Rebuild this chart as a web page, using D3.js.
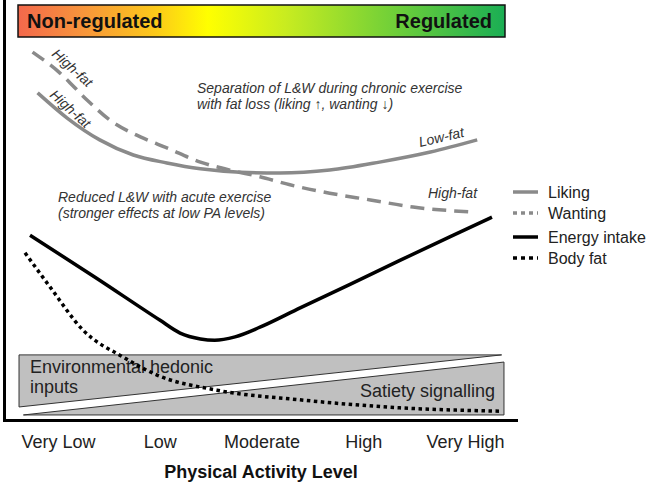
<!DOCTYPE html>
<html><head><meta charset="utf-8">
<script src="https://cdn.jsdelivr.net/npm/d3@7"></script>
<style>
body{margin:0;background:#fff;}
svg{display:block;font-family:"Liberation Sans",Arial,sans-serif;}
</style></head>
<body><svg id="c" width="649" height="487"></svg>
<script>
// PA levels (categorical positions 0..4)
const levels = ["Very Low","Low","Moderate","High","Very High"];
// Curves: x in PA-level units, y in arbitrary 0-100 units
const likingX = [-0.2,0.09,0.41,0.74,1.07,1.4,1.79,2.18,2.67,3.16,3.66,4.12];
const likingY = [77.9,71.9,66.7,63.1,61.2,59.8,59.0,58.8,59.5,61.4,63.8,66.7];
const wantingX = [-0.25,0.02,0.285,0.51,0.81,1.07,1.4,1.69,1.985,2.28,2.67,3.07,3.49,4.08];
const wantingY = [87.6,82.6,76.2,71.4,67.4,64.8,61.4,59.5,57.9,56.0,54.0,52.4,50.7,49.5];
const energyX = [-0.275,0.364,1.0,1.2,1.4,1.54,1.74,1.985,2.38,2.87,3.36,3.85,4.265];
const energyY = [44.0,34.0,23.8,20.7,19.3,19.0,19.8,22.1,26.7,32.3,38.0,43.6,48.3];
const fatX = [-0.324,-0.079,0.246,0.639,0.973,1.563,2.378,3.361,4.344];
const fatY = [39.8,31.7,21.4,15.0,10.7,7.1,4.8,2.9,2.1];
const legendItems = ["Liking","Wanting","Energy intake","Body fat"];

const svg = d3.select("#c");
const x = d3.scaleLinear().domain([0,4]).range([58,465]);
const y = d3.scaleLinear().domain([0,100]).range([420,0]);
const GRAY = "#8a8a8a";

// gradient header
const defs = svg.append("defs");
const g = defs.append("linearGradient").attr("id","grad").attr("x1","0%").attr("x2","100%");
[["0%","#f3684c"],["14%","#f8973a"],["28%","#fcc81a"],["39%","#ffff00"],["55%","#c8ec20"],["75%","#78d236"],["100%","#1aae54"]]
  .forEach(s=>g.append("stop").attr("offset",s[0]).attr("stop-color",s[1]));
svg.append("rect").attr("x",x(-0.393)).attr("y",5).attr("width",x(4.393)-x(-0.393)).attr("height",32)
  .attr("fill","url(#grad)").attr("stroke","#111").attr("stroke-width",1.5);
svg.append("text").attr("x",27).attr("y",28).attr("font-size",20).attr("font-weight","bold").attr("fill","#111").text("Non-regulated");
svg.append("text").attr("x",492).attr("y",28).attr("text-anchor","end").attr("font-size",20).attr("font-weight","bold").attr("fill","#111").text("Regulated");

// hedonic / satiety box
const bx0=-0.383, bx1=4.383;
svg.append("path").attr("d",`M${x(bx0)},${y(15.5)}L${x(4.36)},${y(15.5)}L${x(bx0)},${y(3.1)}Z`)
  .attr("fill","#c0c0c0").attr("stroke","#333").attr("stroke-width",1);
svg.append("path").attr("d",`M${x(-0.34)},${y(1.2)}L${x(bx1)},${y(13.8)}L${x(bx1)},${y(1.2)}Z`)
  .attr("fill","#c0c0c0").attr("stroke","#333").attr("stroke-width",1);
svg.append("text").attr("x",30).attr("y",373).attr("font-size",18).attr("fill","#222").text("Environmental hedonic");
svg.append("text").attr("x",30).attr("y",393).attr("font-size",18).attr("fill","#222").text("inputs");
svg.append("text").attr("x",495).attr("y",397).attr("text-anchor","end").attr("font-size",18).attr("fill","#222").text("Satiety signalling");

// axes
svg.append("line").attr("x1",4.5).attr("x2",4.5).attr("y1",0).attr("y2",421.5).attr("stroke","#000").attr("stroke-width",3);
svg.append("line").attr("x1",3).attr("x2",518).attr("y1",420.5).attr("y2",420.5).attr("stroke","#000").attr("stroke-width",3);
const ax = svg.append("g").attr("transform","translate(0,420)")
  .call(d3.axisBottom(x).tickValues(d3.range(levels.length)).tickFormat(i=>levels[i]).tickSize(0).tickPadding(15));
ax.select(".domain").remove();
ax.selectAll("text").attr("font-size",18).attr("fill","#222").attr("font-family","Liberation Sans, Arial, sans-serif");
svg.append("text").attr("x",261).attr("y",478).attr("text-anchor","middle").attr("font-size",18).attr("font-weight","bold").attr("fill","#111").text("Physical Activity Level");

// curves
const line = d3.line().x(d=>x(d[0])).y(d=>y(d[1])).curve(d3.curveMonotoneX);
const zip = (a,b)=>a.map((v,i)=>[v,b[i]]);
svg.append("path").attr("d",line(zip(likingX,likingY))).attr("fill","none").attr("stroke",GRAY).attr("stroke-width",3.5);
svg.append("path").attr("d",line(zip(wantingX,wantingY))).attr("fill","none").attr("stroke",GRAY).attr("stroke-width",3.5).attr("stroke-dasharray","14,8");
svg.append("path").attr("d",line(zip(energyX,energyY))).attr("fill","none").attr("stroke","#000").attr("stroke-width",3.5);
svg.append("path").attr("d",line(zip(fatX,fatY))).attr("fill","none").attr("stroke","#000").attr("stroke-width",3.5).attr("stroke-dasharray","3.5,3.5");

// annotations
const ital = (tx,ty,t,rot)=>svg.append("text").attr("font-size",14).attr("font-style","italic").attr("fill","#333")
  .attr("transform",`translate(${tx},${ty}) rotate(${rot||0})`).text(t);
ital(197,93,"Separation of L&W during chronic exercise");
ital(197,109,"with fat loss (liking \u2191, wanting \u2193)");
ital(58,202,"Reduced L&W with acute exercise");
ital(58,218,"(stronger effects at low PA levels)");
ital(51,55,"High-fat",42);
ital(49,96,"High-fat",42);
ital(420,147,"Low-fat",-13);
ital(428,198,"High-fat");

// legend
const lg = svg.append("g");
const lys = {"Liking":192,"Wanting":213,"Energy intake":237,"Body fat":258};
const lstyle = {"Liking":[GRAY,null],"Wanting":[GRAY,"4,4"],"Energy intake":["#000",null],"Body fat":["#000","4,4"]};
legendItems.forEach(k=>{
  lg.append("line").attr("x1",513).attr("x2",538).attr("y1",lys[k]).attr("y2",lys[k])
    .attr("stroke",lstyle[k][0]).attr("stroke-width",3.5).attr("stroke-dasharray",lstyle[k][1]);
  lg.append("text").attr("x",548).attr("y",lys[k]+6).attr("font-size",16).attr("fill","#222").text(k);
});
</script></body></html>
